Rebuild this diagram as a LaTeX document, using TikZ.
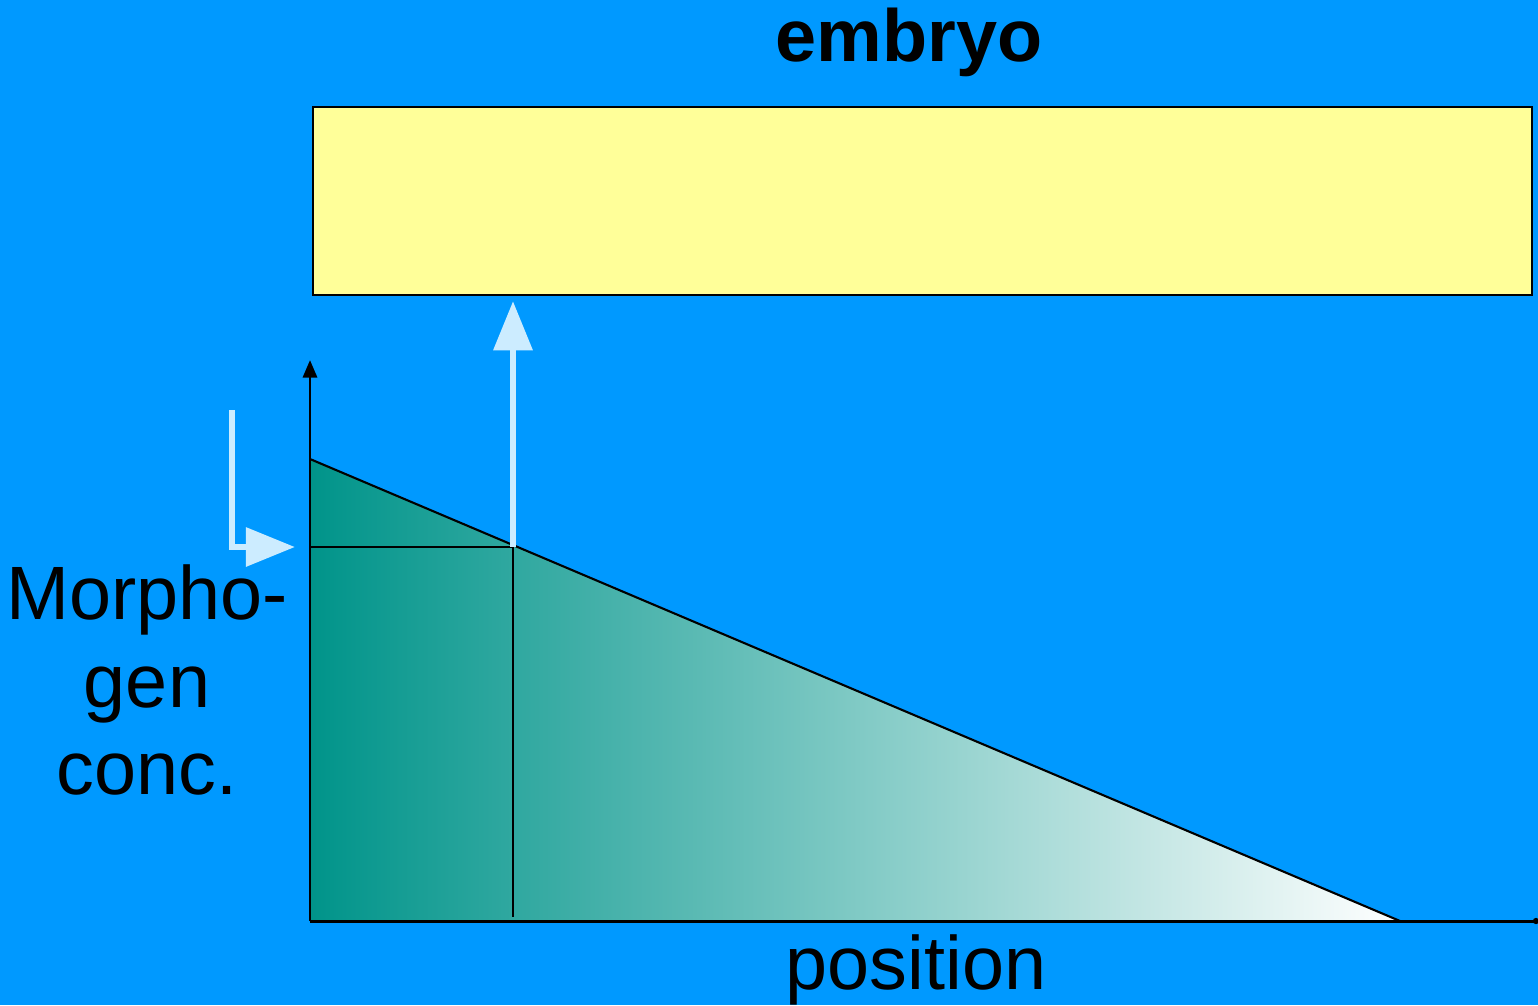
\documentclass[tikz,border=0pt]{standalone}
\usepackage{fontspec}
\setmainfont{Liberation Sans}
\usetikzlibrary{arrows.meta,positioning,calc}
\definecolor{bgblue}{RGB}{0,153,255}
\definecolor{embryoyellow}{RGB}{255,255,153}
\definecolor{morphteal}{RGB}{0,148,138}
\definecolor{pale}{RGB}{204,236,255}

\begin{document}
\begin{tikzpicture}[x=0.01cm, y=-0.01cm,
    axis/.style={line width=0.85pt, black},
    hint/.style={line width=1.9pt, pale, -{Triangle[length=14pt, width=10.8pt]}},
    lbl/.style={font=\fontsize{21.5}{25}\selectfont, align=center, inner sep=0pt}
]
\fill[bgblue] (0,0) rectangle (1538,1005);
\useasboundingbox (0,0) rectangle (1538,1005);

\node[draw, line width=0.6pt, fill=embryoyellow, minimum width=12.19cm, minimum height=1.88cm, inner sep=0pt] (box) at (922.5,201) {};
\node[font=\fontsize{21}{25}\selectfont\bfseries, inner sep=0pt] (title) at (909,42) {embryo};

\coordinate (orig) at (310,921);
\coordinate (top) at (310,459);
\coordinate (tail) at (1400,921);
\coordinate (cut) at (513,547);

\shade[left color=morphteal, right color=white, shading angle=90] (top) -- (tail) -- (orig) -- cycle;
\draw[line width=0.6pt] (top) -- (tail);
\draw[line width=0.6pt] (orig |- cut) -- (cut) -- (cut |- 0,917);

\draw[axis, -{Triangle[length=5pt, width=4pt]}] (orig) -- (310,360);
\draw[axis] (orig) -- (1536,921);
\fill (1536,921) circle (0.9pt);

\draw[hint] (cut) -- ($(cut |- box.south)+(0,5)$);
\draw[hint] (232,410) -- (232,547) -- ($(orig |- cut)+(-15,0)$);

\node[lbl] (conc) at (147,680) {Morpho-\\gen\\conc.};
\node[lbl] (pos) at (916,970) {position};
\end{tikzpicture}
\end{document}
